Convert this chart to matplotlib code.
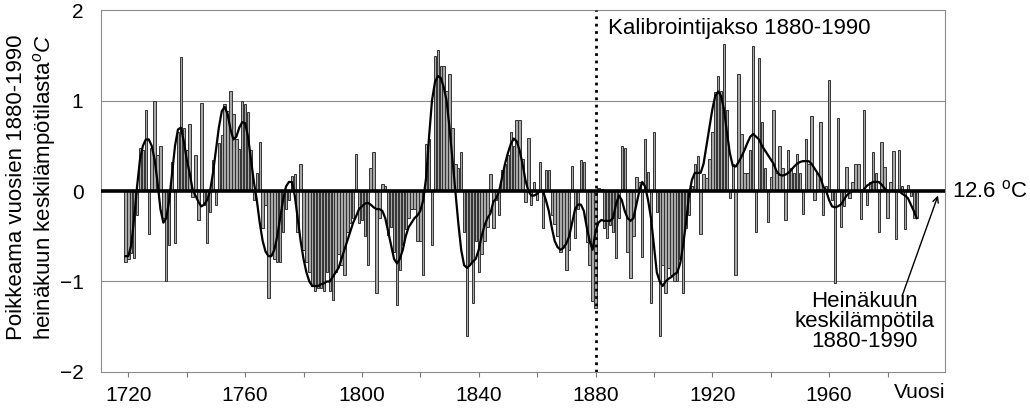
import numpy as np
import matplotlib
matplotlib.use("Agg")
import matplotlib.pyplot as plt

plt.rcParams['font.family'] = ['Liberation Sans', 'DejaVu Sans']
plt.rcParams['mathtext.fontset'] = 'custom'
plt.rcParams['mathtext.rm'] = 'Liberation Sans'
plt.rcParams['mathtext.it'] = 'Liberation Sans:italic'

# heinäkuun lämpötilapoikkeamat vuosittain (luettu kuvasta), alkaen 1719
alkuvuosi = 1719
poikkeamat = [
    -0.79, -0.75, -0.68, -0.74, -0.27, 0.47, 0.45, 0.90, -0.47, 0.48,   # 1719-1728
    1.00, 0.40, 0.50, -0.30, -1.00, -0.60, 0.32, -0.58, 0.65, 1.48,     # 1729-1738
    0.70, 0.45, 0.74, -0.07, 0.40, -0.32, 0.97, -0.15, -0.58, -0.23,    # 1739-1748
    0.34, -0.16, 0.53, 0.62, 0.96, 0.88, 1.10, 0.85, 0.57, 0.46,        # 1749-1758
    1.00, 0.96, 0.87, 0.45, -0.10, 0.20, 0.54, -0.41, -0.15, -1.18,     # 1759-1768
    -0.70, -0.75, -0.78, -0.78, -0.45, -0.20, -0.10, 0.17, 0.19, -0.45, # 1769-1778
    0.30, -0.65, -0.78, -0.90, -1.05, -1.11, -1.07, -1.07, -1.11, -0.90,  # 1779-1788
    -1.11, -1.20, -0.90, -0.70, -0.82, -0.93, -0.45, -0.35, -0.30, 0.41,  # 1789-1798
    -0.35, -0.32, -0.50, -0.82, 0.25, 0.43, -1.13, -0.30, 0.08, 0.05,   # 1799-1808
    -0.49, -0.40, -0.67, -1.26, -0.87, -0.60, -0.42, -0.30, -0.20, -0.20,  # 1809-1818
    -0.55, -0.55, -0.93, 0.52, 0.58, -0.60, 1.49, 1.56, 1.38, 1.38,     # 1819-1828
    1.10, 1.29, 0.70, 0.30, 0.25, 0.43, -0.45, -1.60, -0.80, -1.24,     # 1829-1838
    -0.55, -0.89, -0.70, -0.55, -0.40, 0.19, -0.41, -0.10, -0.27, 0.23,  # 1839-1848
    0.30, 0.40, 0.65, 0.50, 0.78, 0.78, 0.35, -0.12, 0.59, -0.15,       # 1849-1858
    0.10, -0.10, 0.32, -0.41, 0.23, 0.23, -0.27, -0.37, -0.50, -0.67,   # 1859-1868
    -0.60, -0.87, -0.65, 0.28, -0.52, -0.20, 0.34, 0.32, -0.56, -0.82,  # 1869-1878
    -1.22, -1.29, 0.03, 0.02, -0.41, -0.52, -0.38, -0.45, -0.74, -0.30,  # 1879-1888
    0.50, 0.47, -0.67, -0.96, -0.50, 0.15, 0.10, -0.73, 0.58, 0.21,     # 1889-1898
    -1.24, 0.65, -0.23, -1.60, -0.82, -1.13, -0.85, -0.93, -1.00, -1.00,  # 1899-1908
    -0.75, -1.13, -0.41, -0.27, 0.05, 0.30, 0.39, -0.47, 0.19, 0.14,    # 1909-1918
    0.35, 0.65, 1.09, 1.27, 1.10, 1.62, 0.90, -0.08, 0.30, -0.93,       # 1919-1928
    1.29, 0.63, 0.20, 0.20, 0.45, 1.60, -0.45, 1.47, 0.76, 0.25,        # 1929-1938
    -0.34, 0.15, 0.90, 0.20, 0.50, 0.25, -0.32, 0.45, 0.25, 0.20,       # 1939-1948
    0.41, 0.20, -0.25, 0.57, 0.30, 0.83, -0.10, 0.20, 0.76, -0.27,      # 1949-1958
    0.05, 1.23, -0.10, -1.02, 0.81, -0.40, -0.17, 0.26, -0.08, 0.10,    # 1959-1968
    0.30, 0.30, -0.31, 0.90, -0.16, 0.10, 0.43, 0.20, -0.45, 0.54,      # 1969-1978
    0.27, -0.30, 0.10, 0.44, -0.53, 0.45, 0.05, -0.42, 0.07, -0.05,     # 1979-1988
    -0.30, -0.30,                                                        # 1989-1990
]
vuodet = np.arange(alkuvuosi, alkuvuosi + len(poikkeamat))

# tasoitettu käyrä (luettu kuvasta)
tasoitus_alku = 1719
tasoitettu = [
    -0.72, -0.72, -0.60, -0.30, 0.05, 0.35, 0.50, 0.57, 0.57, 0.50,     # 1719-1728
    0.35, 0.10, -0.20, -0.35, -0.30, -0.10, 0.20, 0.50, 0.68, 0.70,     # 1729-1738
    0.55, 0.35, 0.20, 0.02, -0.05, -0.12, -0.17, -0.15, -0.10, 0.00,    # 1739-1748
    0.20, 0.45, 0.70, 0.88, 0.93, 0.85, 0.68, 0.57, 0.60, 0.70,         # 1749-1758
    0.76, 0.75, 0.60, 0.35, 0.10, -0.10, -0.35, -0.55, -0.67, -0.72,    # 1759-1768
    -0.72, -0.65, -0.50, -0.30, -0.10, 0.05, 0.10, 0.10, -0.05, -0.30,  # 1769-1778
    -0.55, -0.75, -0.90, -1.00, -1.05, -1.05, -1.05, -1.03, -1.02, -1.00,  # 1779-1788
    -1.00, -0.95, -0.90, -0.85, -0.75, -0.65, -0.55, -0.45, -0.35, -0.28,  # 1789-1798
    -0.20, -0.17, -0.14, -0.13, -0.15, -0.18, -0.20, -0.20, -0.22, -0.30,  # 1799-1808
    -0.45, -0.60, -0.75, -0.80, -0.75, -0.65, -0.50, -0.40, -0.35, -0.30,  # 1809-1818
    -0.27, -0.22, -0.10, 0.15, 0.60, 1.00, 1.20, 1.27, 1.25, 1.15,      # 1819-1828
    1.00, 0.70, 0.35, 0.00, -0.35, -0.65, -0.82, -0.85, -0.82, -0.78,   # 1829-1838
    -0.75, -0.65, -0.50, -0.38, -0.30, -0.25, -0.12, -0.08, 0.00, 0.15,  # 1839-1848
    0.30, 0.42, 0.52, 0.58, 0.55, 0.45, 0.30, 0.12, 0.00, -0.05,        # 1849-1858
    -0.05, -0.03, 0.00, 0.00, -0.10, -0.22, -0.40, -0.55, -0.62, -0.65,  # 1859-1868
    -0.63, -0.58, -0.50, -0.35, -0.20, -0.15, -0.15, -0.22, -0.40, -0.55,  # 1869-1878
    -0.65, -0.45, -0.35, -0.32, -0.33, -0.33, -0.33, -0.30, -0.15, -0.05,  # 1879-1888
    -0.10, -0.22, -0.30, -0.33, -0.30, -0.15, 0.00, 0.10, 0.05, -0.10,  # 1889-1898
    -0.30, -0.60, -0.90, -1.00, -1.05, -1.00, -0.97, -0.95, -0.92, -0.90,  # 1899-1908
    -0.80, -0.60, -0.35, -0.05, 0.12, 0.20, 0.20, 0.20, 0.30, 0.50,     # 1909-1918
    0.70, 0.90, 1.05, 1.10, 1.05, 0.90, 0.65, 0.42, 0.28, 0.27,         # 1919-1928
    0.32, 0.38, 0.45, 0.53, 0.60, 0.63, 0.60, 0.57, 0.50, 0.45,         # 1929-1938
    0.40, 0.35, 0.30, 0.22, 0.18, 0.17, 0.18, 0.20, 0.23, 0.27,         # 1939-1948
    0.30, 0.32, 0.33, 0.33, 0.33, 0.30, 0.25, 0.20, 0.15, 0.05,         # 1949-1958
    0.00, -0.10, -0.17, -0.18, -0.17, -0.15, -0.10, -0.05, -0.02, 0.00,  # 1959-1968
    0.00, 0.00, 0.00, 0.02, 0.06, 0.08, 0.10, 0.10, 0.10, 0.07,         # 1969-1978
    0.03, 0.00, 0.00, 0.00, 0.00, 0.00, -0.03, -0.05, -0.08, -0.15,     # 1979-1988
    -0.22, -0.30,                                                        # 1989-1990
]
tasoitus_vuodet = np.arange(tasoitus_alku, tasoitus_alku + len(tasoitettu))

x_tikit = [1720, 1740, 1760, 1780, 1800, 1820, 1840, 1860, 1880, 1900, 1920, 1940, 1960, 1980]
x_nimet = ['1720', '', '1760', '', '1800', '', '1840', '', '1880', '', '1920', '', '1960', '']
y_tikit = [-2, -1, 0, 1, 2]

fig = plt.figure(figsize=(10.30, 4.09), dpi=100)
ax = fig.add_axes([0.0985, 0.0905, 0.8190, 0.8850])

# vuosipylväät ja tasoitettu käyrä
ax.bar(vuodet, poikkeamat, width=0.82, color='#a8a8a8', edgecolor='#333333',
       linewidth=0.7, zorder=2)
ax.plot(tasoitus_vuodet, tasoitettu, color='black', lw=1.6, zorder=3)
ax.axhline(0, color='black', lw=2.6, zorder=4)
for g in (1, -1):
    ax.axhline(g, color='#8c8c8c', lw=0.8, zorder=1)
ax.axvline(1880, color='black', lw=2.0, linestyle=':', zorder=5)

ax.set_xlim(1710.8, 1999.7)
ax.set_ylim(-2, 2)
ax.set_xticks(x_tikit)
ax.set_xticklabels(x_nimet)
ax.set_yticks(y_tikit)
ax.tick_params(axis='x', length=3.5, width=0.8, color='#777777', pad=6.5, labelsize=15)
ax.tick_params(axis='y', length=0, pad=13, labelsize=15)
for s in ax.spines.values():
    s.set_color('#8c8c8c')
    s.set_linewidth(0.8)

# tekstit
ax.text(1884.2, 1.8, 'Kalibrointijakso 1880-1990', fontsize=16, ha='left', va='center')
ax.text(1991, -0.058, 'Vuosi', fontsize=15, ha='center', va='center',
        transform=ax.get_xaxis_transform())
ax.text(1.008, 0, '12.6 $^{\\rm o}$C', fontsize=16, ha='left', va='center',
        transform=ax.get_yaxis_transform(), clip_on=False)
ax.text(1972, -1.44, 'Heinäkuun\nkeskilämpötila\n1880-1990', fontsize=16,
        ha='center', va='center', linespacing=0.95)
ax.annotate('', xy=(1997.3, -0.05), xytext=(1985, -1.16),
            arrowprops=dict(arrowstyle='->', color='black', lw=1.0,
                            shrinkA=0, shrinkB=0))

fig.text(0.031, 0.5416, 'Poikkeama vuosien 1880-1990\nheinäkuun keskilämpötilasta$^{o}C$',
         rotation=90, ha='center', va='center', multialignment='left', fontsize=16)

fig.savefig('out.png', dpi=100)
